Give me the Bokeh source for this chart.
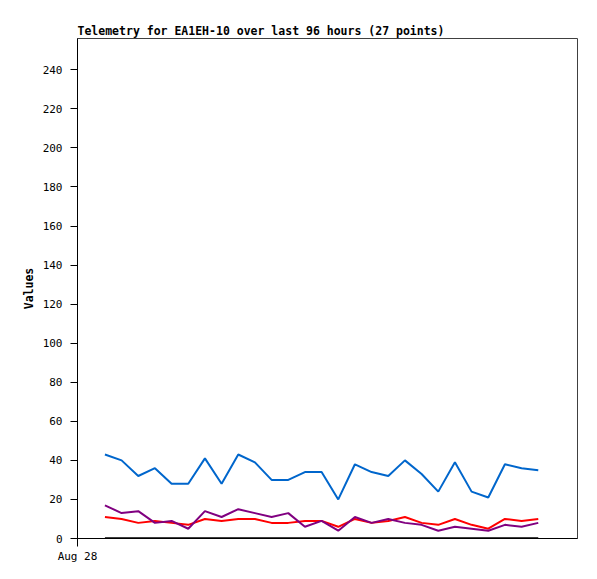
from bokeh.plotting import figure
from bokeh.models import Range1d, SingleIntervalTicker, FixedTicker
from bokeh.embed import file_html
from bokeh.resources import INLINE

title = "Telemetry for EA1EH-10 over last 96 hours (27 points)"
times = ["01:19", "02:07", "02:55", "03:43", "04:31", "05:19", "06:07", "06:55", "07:43",
         "08:31", "09:19", "10:07", "10:55", "11:43", "12:31", "13:19", "14:07", "14:55",
         "15:43", "16:31", "17:19", "18:07", "18:55", "19:43", "20:31", "21:19", "22:07"]
blue_vals = [43, 40, 32, 36, 28, 28, 41, 28, 43, 39, 30, 30, 34, 34, 20, 38, 34, 32,
             40, 33, 24, 39, 24, 21, 38, 36, 35]
red_vals = [11, 10, 8, 9, 8, 7, 10, 9, 10, 10, 8, 8, 9, 9, 6, 10, 8, 9,
            11, 8, 7, 10, 7, 5, 10, 9, 10]
purple_vals = [17, 13, 14, 8, 9, 5, 14, 11, 15, 13, 11, 13, 6, 9, 4, 11, 8, 10,
               8, 7, 4, 6, 5, 4, 7, 6, 8]
black_vals = [0] * 27
x_tick_labels = {0: "Aug 28"}

hours = [int(t.split(":")[0]) + int(t.split(":")[1]) / 60 for t in times]

p = figure(width=597, height=579, output_backend="svg", toolbar_location=None,
           x_range=Range1d(0, 24), y_range=Range1d(0, 256),
           min_border_left=77, min_border_right=20, min_border_top=38, min_border_bottom=41,
           title=title)
p.title.text_font = "DejaVu Sans Mono"
p.title.text_font_style = "bold"
p.title.text_font_size = "11.5px"
p.title.text_color = "black"
p.title.align = "left"
p.title.offset = 0
p.title.standoff = 1

p.outline_line_color = "#404040"
p.outline_line_width = 1
p.xgrid.visible = False
p.ygrid.visible = False
p.background_fill_color = "white"
p.border_fill_color = "white"

p.yaxis.ticker = SingleIntervalTicker(interval=20)
p.yaxis.axis_label = "Values"
p.yaxis.axis_label_text_font = "DejaVu Sans Mono"
p.yaxis.axis_label_text_font_style = "bold"
p.yaxis.axis_label_text_font_size = "11.5px"
p.yaxis.axis_label_text_color = "black"
p.yaxis.axis_label_standoff = 4
p.xaxis.ticker = FixedTicker(ticks=list(x_tick_labels.keys()))
p.xaxis.major_label_overrides = x_tick_labels
for ax in (p.xaxis, p.yaxis):
    ax.axis_line_color = "black"
    ax.major_tick_line_color = "black"
    ax.minor_tick_line_color = None
    ax.major_tick_out = 7
    ax.major_tick_in = 0
    ax.major_label_text_font = "DejaVu Sans Mono"
    ax.major_label_text_font_size = "11px"
    ax.major_label_text_color = "black"
p.yaxis.major_label_standoff = 8
p.xaxis.major_tick_out = 8
p.xaxis.major_label_standoff = 3

p.line(hours, black_vals, line_color="black", line_width=2.5)
p.line(hours, blue_vals, line_color="#0066CC", line_width=2)
p.line(hours, red_vals, line_color="#FF0000", line_width=2)
p.line(hours, purple_vals, line_color="#800080", line_width=2)

open("out.html", "w").write(file_html(p, INLINE))
